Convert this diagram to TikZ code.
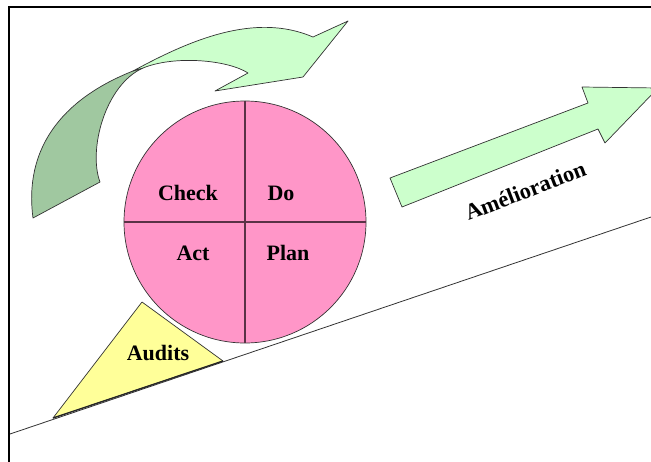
\documentclass[tikz,border=0pt]{standalone}
\usepackage{fontspec}
\setmainfont{Liberation Serif}
\definecolor{lgreen}{RGB}{204,255,204}
\definecolor{dgreen}{RGB}{160,200,160}
\definecolor{pdcapink}{RGB}{255,150,200}
\definecolor{audity}{RGB}{255,255,153}
\definecolor{divline}{RGB}{90,50,70}
\begin{document}
\begin{tikzpicture}[x=1pt,y=-1pt,
  outl/.style={draw=black!80, line width=0.7pt, line join=round},
  lbl/.style={font=\fontsize{22}{22}\selectfont\bfseries, anchor=base, inner sep=0pt}]
\clip (0,0) rectangle (651,461);
\fill[white] (0,0) rectangle (651,461);
\draw[line width=2.5pt] (9,470) -- (9,7) -- (660,7);
% ground line
\coordinate (gl) at (10,434);
\coordinate (gr) at (651,217);
\draw[line width=0.8pt, black!80] (gl) -- (gr);
% audits wedge
\draw[outl, fill=audity] (142,302) -- (223,361) -- (53,418) -- cycle;
\draw[line width=1.3pt, black!85] (223,361) -- (53,418);
\node[lbl] (audits) at (158,360) {Audits};
% PDCA wheel
\node[circle, draw=black!80, line width=0.7pt, fill=pdcapink, minimum size=242pt, inner sep=0pt] (pdca) at (245,222) {};
\draw[divline, line width=1.3pt] (pdca.north) -- (pdca.south);
\draw[divline, line width=1.3pt] (pdca.west) -- (pdca.east);
\node[lbl] (check) at (188,200) {Check};
\node[lbl] (do) at (281,200) {Do};
\node[lbl] (act) at (193,260) {Act};
\node[lbl] (plan) at (288,260) {Plan};
% curved arrow
\draw[outl, fill=dgreen] (33,218) .. controls (24,150) and (60,100) .. (133,71) -- (143,68) .. controls (105,85) and (88,150) .. (100,182) -- cycle;
\draw[outl, fill=lgreen] (133,71) .. controls (190,40) and (255,12) .. (313,37) -- (348,21) -- (303,77) -- (215,91) -- (248,73) .. controls (228,60) and (175,55) .. (143,68) -- cycle;
% improvement arrow
\draw[outl, fill=lgreen] (390,178) -- (588,103) -- (582,87) -- (658,88) -- (605,143) -- (598,129) -- (402,207) -- cycle;
\node[font=\fontsize{22.5}{22.5}\selectfont\bfseries, rotate=21, anchor=base, inner sep=0pt] (amel) at (528,198) {Amélioration};
\end{tikzpicture}
\end{document}
